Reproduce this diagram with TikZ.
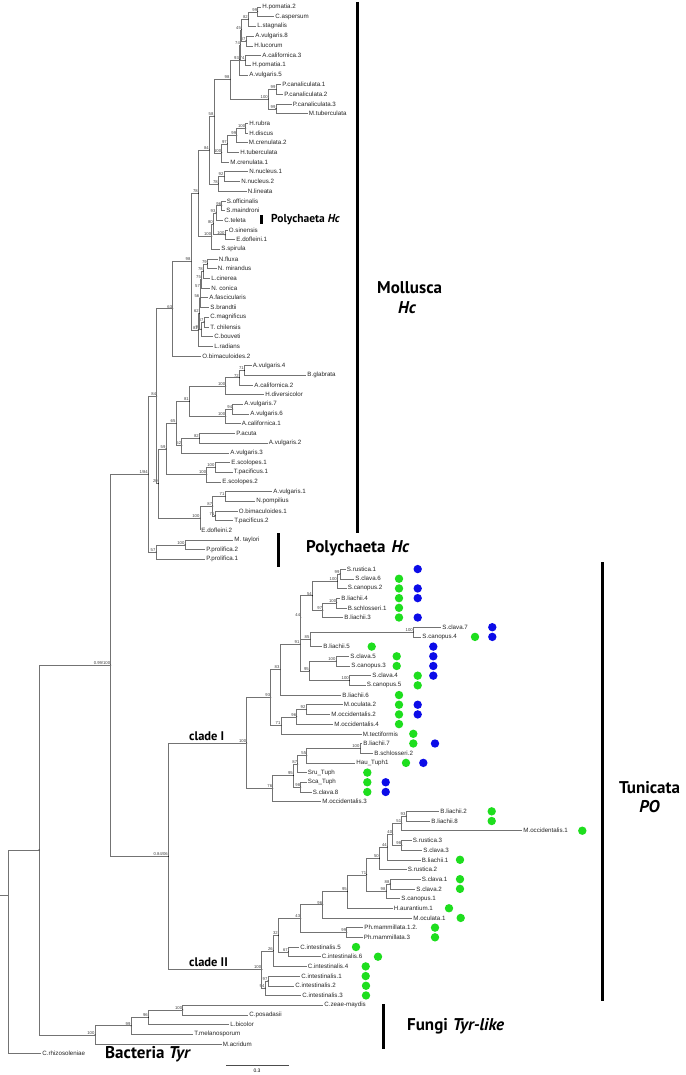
\documentclass[tikz,border=0pt]{standalone}
\usepackage{fontspec}
\setmainfont{Liberation Sans}
\newfontfamily\grpfont{PT Sans}
\usetikzlibrary{calc}
\definecolor{dotgreen}{RGB}{30,222,30}
\definecolor{dotblue}{RGB}{12,12,232}
% clade: name, x, child a, child b, support
\newcommand{\clade}[5]{%
  \path let \p1=($(#3)!0.5!(#4)$) in coordinate (#1) at (#2pt,\y1);
  \draw[branch] (#1) |- (#3);
  \draw[branch] (#1) |- (#4);
  \fill[black] (#1) circle (0.55pt);
  \node[boot] (#1b) at (#1) {#5};}
\begin{document}
\begin{tikzpicture}[x=1pt, y=-1pt, font=\fontsize{6.2}{7}\selectfont,
    branch/.style={draw=black!55, line width=0.5pt},
    leaf/.style={anchor=west, inner sep=1.2pt, text=black!85},
    boot/.style={font=\fontsize{4.2}{4.5}\selectfont, inner sep=0.4pt, anchor=south east, text=black!75},
    grp/.style={font=\grpfont\bfseries\fontsize{17}{19}\selectfont, inner sep=0pt},
    bar/.style={line width=3pt}]
    \useasboundingbox[fill=white] (0,0) rectangle (685,1075);

    % taxa, top to bottom
    \foreach \x/\t [count=\i] in {261/H.pomatia.2, 274/C.aspersum, 256/L.stagnalis, 254/A.vulgaris.8,
        253/H.lucorum, 261/A.californica.3, 251/H.pomatia.1, 248/A.vulgaris.5, 281/P.canaliculata.1,
        283/P.canaliculata.2, 291.5/P.canaliculata.3, 307.5/M.tuberculata, 248/H.rubra, 248/H.discus,
        247.5/M.crenulata.2, 239/H.tuberculata, 229/M.crenulata.1, 248/N.nucleus.1, 240/N.nucleus.2,
        246.5/N.lineata, 225.5/S.officinalis, 225/S.maindroni, 223/C.teleta, 227.5/O.sinensis,
        235/E.dofleini.1, 220/S.spirula, 217.5/N.fluxa, 216.5/N. mirandus, 210/L.cinerea, 210/N. conica,
        208/A.fascicularis, 209/S.brandtii, 209/C.magnificus, 209/T. chilensis, 213/C.bouveti,
        213/L.radians, 201/O.bimaculoides.2, 251.5/A.vulgaris.4, 306/B.glabrata, 253/A.californica.2,
        264/H.diversicolor, 243/A.vulgaris.7, 249/A.vulgaris.6, 240.5/A.californica.1, 235/P.acuta,
        267.5/A.vulgaris.2, 229/A.vulgaris.3, 230/E.scolopes.1, 232.5/T.pacificus.1, 221/E.scolopes.2,
        272/A.vulgaris.1, 255/N.pompilius, 237.5/O.bimaculoides.1, 233/T.pacificus.2, 200/E.dofleini.2,
        233/M. taylori, 205/P.prolifica.2, 205/P.prolifica.1,
        345.5/S.rustica.1, 354/S.clava.6, 346.5/S.canopus.2, 340/B.liachii.4, 346.5/B.schlosseri.1,
        343/B.liachii.3, 441/S.clava.7, 421/S.canopus.4, 322/B.liachii.5, 349/S.clava.5, 350/S.canopus.3,
        371/S.clava.4, 365.5/S.canopus.5, 341/B.liachii.6, 342.5/M.oculata.2, 330/M.occidentalis.2,
        333/M.occidentalis.4, 361.5/M.tectiformis, 362/B.liachii.7, 373/B.schlosseri.2, 355/Hau\_Tuph1,
        306.5/Sru\_Tuph, 306.5/Sca\_Tuph, 311.5/S.clava.8, 321/M.occidentalis.3,
        439/B.liachii.2, 430/B.liachii.8, 522/M.occidentalis.1, 411.5/S.rustica.3, 422/S.clava.3,
        420.5/B.liachii.1, 406.5/S.rustica.2, 420.5/S.clava.1, 415/S.clava.2, 400/S.canopus.1,
        392.5/H.aurantium.1, 412/M.oculata.1, 363/Ph.mammillata.1.2., 362.5/Ph.mammillata.3,
        299/C.intestinalis.5, 320.5/C.intestinalis.6, 306.5/C.intestinalis.4, 300/C.intestinalis.1,
        294/C.intestinalis.2, 301/C.intestinalis.3,
        323/C.zeae-maydis, 248/C.posadasii, 229/L.bicolor, 193/T.melanosporum, 221.5/M.acridum,
        41/C.rhizosoleniae}{
        \pgfmathsetmacro\ly{7+9.6907*(\i-1)}
        \node[leaf] (l\i) at (\x,\ly) {\t};
    }

    % Mollusca
    \clade{a99}{257.7}{l1}{l2}{99}
    \clade{a82}{248.3}{a99}{l3}{82}
    \clade{a87}{246}{l4}{l5}{87}
    \clade{a45}{241.5}{a82}{a87}{45}
    \clade{a74b}{245}{l6}{l7}{74}
    \clade{a74}{240.5}{a45}{a74b}{74}
    \clade{a93}{239.5}{a74}{l8}{93}
    \clade{a99p}{276}{l9}{l10}{99}
    \clade{a99q}{276}{l11}{l12}{99}
    \clade{a100p}{268.3}{a99p}{a99q}{100}
    \clade{a98}{230}{a93}{a100p}{98}
    \clade{a100r}{245.7}{l13}{l14}{100}
    \clade{a99h}{236.7}{a100r}{l15}{99}
    \clade{a97h}{227.3}{a99h}{l16}{97}
    \clade{a100h}{221.7}{a97h}{l17}{100}
    \clade{a58}{214}{a98}{a100h}{58}
    \clade{a92n}{224}{l18}{l19}{92}
    \clade{a78n}{218.3}{a92n}{l20}{78}
    \clade{a84}{209.3}{a58}{a78n}{84}
    \clade{a96s}{221.7}{l21}{l22}{96}
    \clade{a93s}{216}{a96s}{l23}{93}
    \clade{a100o}{225}{l24}{l25}{100}
    \clade{a80}{213.3}{a93s}{a100o}{80}
    \clade{a100s}{211.7}{a80}{l26}{100}
    \clade{a78}{198.3}{a84}{a100s}{78}
    \clade{a79}{207.3}{l27}{l28}{79}
    \clade{a78c}{203.3}{a79}{l29}{78}
    \clade{a75}{201.5}{a78c}{l30}{75}
    \clade{a57}{200.5}{a75}{l31}{57}
    \clade{a56}{199.8}{a57}{l32}{56}
    \clade{a87c}{204}{l33}{l34}{87}
    \clade{a91}{201}{a87c}{l35}{91}
    \clade{a62}{199.3}{a56}{a91}{62}
    \clade{a81}{198.3}{a62}{l36}{81}
    \clade{a98m}{191}{a78}{a81}{98}
    \clade{a63}{172.7}{a98m}{l37}{63}
    \clade{b71}{244.3}{l38}{l39}{71}
    \clade{b72}{239.3}{b71}{l40}{72}
    \clade{b100a}{225.7}{b72}{l41}{100}
    \clade{b94}{232.7}{l42}{l43}{94}
    \clade{b100b}{225.7}{b94}{l44}{100}
    \clade{b81}{189.3}{b100a}{b100b}{81}
    \clade{b82}{199.3}{l45}{l46}{82}
    \clade{b52}{181.7}{b82}{l47}{52}
    \clade{b65}{176}{b81}{b52}{65}
    \clade{b100f}{215}{l48}{l49}{100}
    \clade{b100e}{206.7}{b100f}{l50}{100}
    \clade{b59}{166}{b65}{b100e}{59}
    \clade{b71a}{225}{l51}{l52}{71}
    \clade{b71b}{215}{l53}{l54}{71}
    \clade{b87}{212.7}{b71a}{b71b}{87}
    \clade{b100d}{200}{b87}{l55}{100}
    \clade{b20}{158.3}{b59}{b100d}{20}
    \clade{m84}{156.7}{a63}{b20}{84}
    \clade{p100}{185}{l56}{l57}{100}
    \clade{p57}{156}{p100}{l58}{57}
    \clade{m184}{148.3}{m84}{p57}{1/84}

    % Tunicata, clade I
    \clade{c99}{340}{l59}{l60}{99}
    \clade{c100a}{337.3}{c99}{l61}{100}
    \clade{c100b}{336.7}{l62}{l63}{100}
    \clade{c97}{322.7}{c100b}{l64}{97}
    \clade{c54}{312.3}{c100a}{c97}{54}
    \clade{c100c}{413.3}{l65}{l66}{100}
    \clade{c85}{310}{c100c}{l67}{85}
    \clade{c44}{300.7}{c54}{c85}{44}
    \clade{c100d}{336}{l68}{l69}{100}
    \clade{c100e}{349.3}{l70}{l71}{100}
    \clade{c95}{309.3}{c100d}{c100e}{95}
    \clade{c91}{300}{c44}{c95}{91}
    \clade{c83}{280}{c91}{l72}{83}
    \clade{c92}{306}{l73}{l74}{92}
    \clade{c96}{296.7}{c92}{l75}{96}
    \clade{c71}{281}{c96}{l76}{71}
    \clade{c93}{270.7}{c83}{c71}{93}
    \clade{c100f}{360}{l77}{l78}{100}
    \clade{c55}{306.7}{c100f}{l79}{55}
    \clade{c87}{297.7}{c55}{l80}{87}
    \clade{c98}{300.7}{l81}{l82}{98}
    \clade{c95b}{293.3}{c87}{c98}{95}
    \clade{c76}{272.7}{c95b}{l83}{76}
    \clade{cladeI}{246.7}{c93}{c76}{100}

    % Tunicata, clade II
    \clade{d93}{406}{l84}{l85}{93}
    \clade{d51}{401.7}{d93}{l86}{51}
    \clade{d98b}{401.7}{l87}{l88}{98}
    \clade{d40}{392.7}{d51}{d98b}{40}
    \clade{d44}{387.3}{d40}{l89}{44}
    \clade{d50}{379.3}{d44}{l90}{50}
    \clade{d88}{390}{l91}{l92}{88}
    \clade{d98s}{386}{d88}{l93}{98}
    \clade{d71}{366.7}{d50}{d98s}{71}
    \clade{d95}{347.3}{d71}{l94}{95}
    \clade{d96}{322.7}{d95}{l95}{96}
    \clade{d99}{346.7}{l96}{l97}{99}
    \clade{d43}{300.7}{d96}{d99}{43}
    \clade{d67}{288.3}{l98}{l99}{67}
    \clade{d32}{278.3}{d43}{d67}{32}
    \clade{d26}{273.3}{d32}{l100}{26}
    \clade{d97}{268}{l101}{l102}{97}
    \clade{d94}{265}{d97}{l103}{94}
    \clade{cladeII}{261.7}{d26}{d94}{100}
    \clade{tun}{168.3}{cladeI}{cladeII}{0.84/06}
    \clade{ingrp}{110.7}{m184}{tun}{0.99/100}

    % Fungi and root
    \clade{f100a}{182.7}{l104}{l105}{100}
    \clade{f96}{148.3}{f100a}{l106}{96}
    \clade{f99}{131}{f96}{l107}{99}
    \clade{f100}{95}{f99}{l108}{100}
    \clade{euk}{39}{ingrp}{f100}{}
    \coordinate (root) at (8,895);
    \draw[branch] (root) |- (euk);
    \draw[branch] (root) |- (l109);
    \coordinate (r0) at (0,895);
    \draw[branch] (root) -- (r0);

    % PO / Tuph markers
    \foreach \i/\xd/\c in {59/417.7/dotblue, 60/399/dotgreen, 61/399/dotgreen, 61/417.7/dotblue,
        62/399/dotgreen, 62/417.7/dotblue, 63/399/dotgreen, 64/399/dotgreen, 64/417.7/dotblue,
        65/492.3/dotblue, 66/475/dotgreen, 66/492.3/dotblue, 67/371.7/dotgreen, 67/433.3/dotblue,
        68/396.7/dotgreen, 68/433.3/dotblue, 69/396.7/dotgreen, 69/433.3/dotblue, 70/417.7/dotgreen,
        70/433.3/dotblue, 71/417.7/dotgreen, 72/399/dotgreen, 73/399/dotgreen, 73/417.7/dotblue,
        74/399/dotgreen, 74/417.7/dotblue, 75/399/dotgreen, 76/413.3/dotgreen, 77/413.3/dotgreen,
        77/435/dotblue, 79/406/dotgreen, 79/423.3/dotblue, 80/367.3/dotgreen, 81/367.3/dotgreen,
        81/385.7/dotblue, 82/367.3/dotgreen, 82/385.7/dotblue, 84/491.7/dotgreen, 85/491.7/dotgreen,
        86/582.3/dotgreen, 89/460/dotgreen, 91/460/dotgreen, 92/460/dotgreen, 94/449/dotgreen,
        95/460.7/dotgreen, 96/435/dotgreen, 97/435/dotgreen, 98/356/dotgreen, 99/378/dotgreen,
        100/365.7/dotgreen, 101/365.7/dotgreen, 102/366/dotgreen, 103/366/dotgreen}
        \fill[\c] (\xd,{7+9.6907*(\i-1)}) circle (4.2pt);

    % group bars and labels
    \draw[bar] (357,2) -- (357,533);
    \node[grp, anchor=west] (moll) at (377,288) {Mollusca};
    \node[grp] (mollhc) at (407,308) {\itshape Hc};
    \fill (259.5,215.5) rectangle (262.5,224.5);
    \node[grp, anchor=west, font=\grpfont\bfseries\fontsize{11.5}{12}\selectfont] (polya) at (271,220) {Polychaeta \textit{Hc}};
    \draw[bar] (278.5,533) -- (278.5,567);
    \node[grp, anchor=west] (polyb) at (306,548) {Polychaeta\hspace{6pt}\textit{Hc}};
    \draw[bar] (602.7,562) -- (602.7,1001);
    \node[grp] (tuni) at (649.5,788) {Tunicata};
    \node[grp] (tunipo) at (649.5,807) {\itshape PO};
    \node[grp, font=\grpfont\bfseries\fontsize{12.5}{13}\selectfont, anchor=west] (cI) at (189,736) {clade I};
    \node[grp, font=\grpfont\bfseries\fontsize{12.5}{13}\selectfont, anchor=west] (cII) at (189,962.7) {clade II};
    \draw[bar] (383.3,1004) -- (383.3,1049);
    \node[grp, anchor=west] (fungi) at (407,1026) {Fungi\hspace{5pt}\textit{Tyr-like}};
    \node[grp, anchor=west] (bact) at (105,1054) {Bacteria \textit{Tyr}};

    % scale
    \coordinate (sb1) at (226,1065);
    \coordinate (sb2) at (288.7,1065);
    \draw[black!70, line width=0.6pt] (sb1) -- (sb2);
    \node[font=\fontsize{5}{5}\selectfont, inner sep=0pt] (sbl) at (257,1070.5) {0.3};
\end{tikzpicture}
\end{document}
